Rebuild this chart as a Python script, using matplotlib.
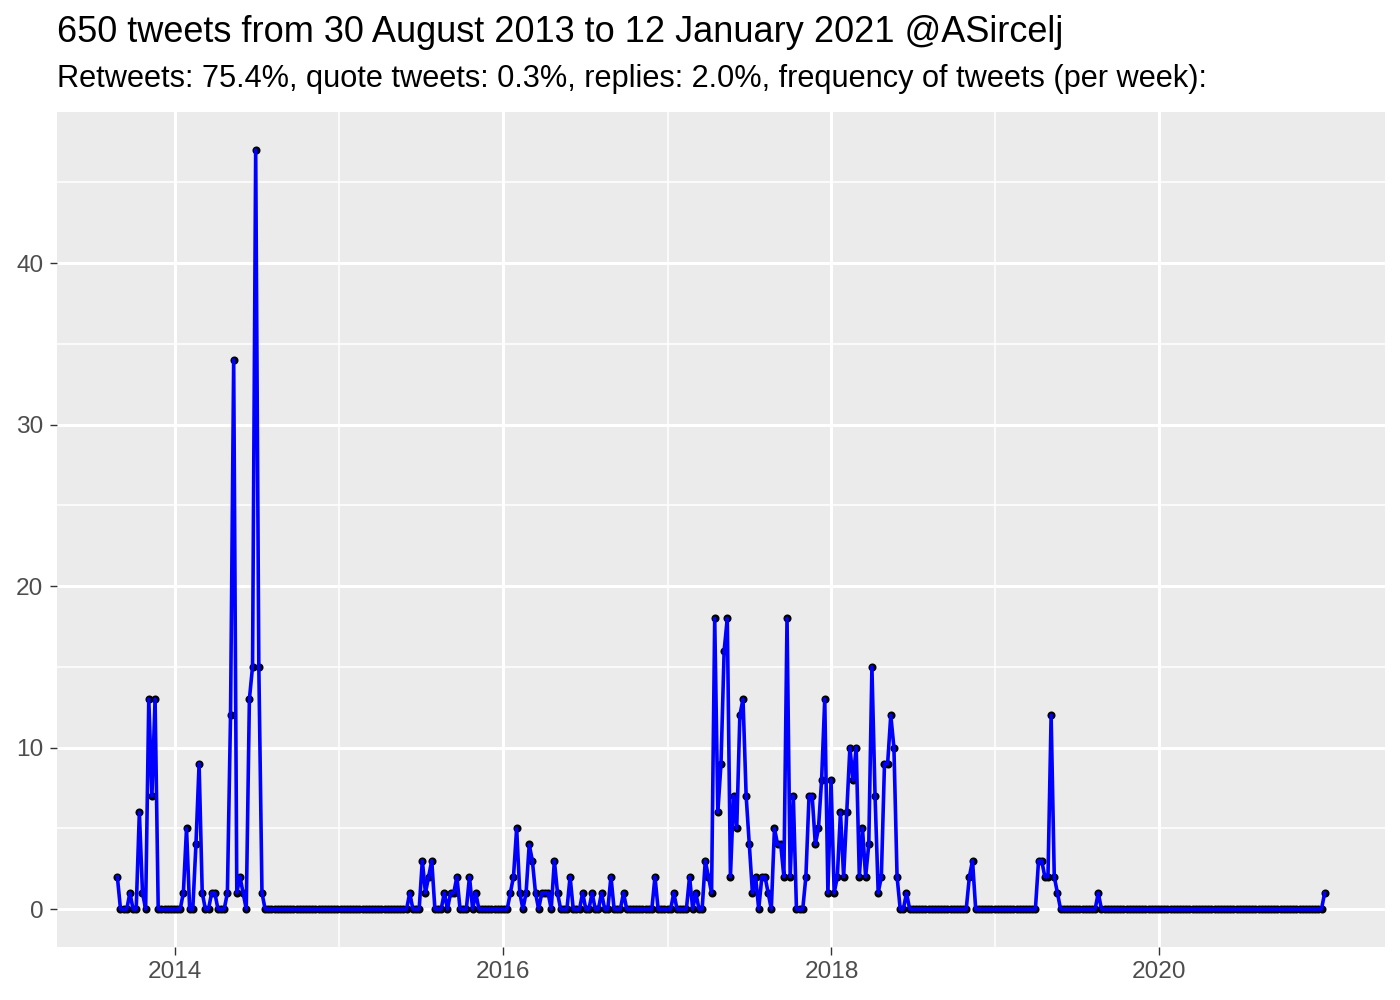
import matplotlib
matplotlib.use('Agg')
import matplotlib.pyplot as plt
import matplotlib.dates as mdates
import pandas as pd

plt.rcParams['font.family'] = ['Liberation Sans', 'DejaVu Sans']

title = '650 tweets from 30 August 2013 to 12 January 2021 @ASircelj'
subtitle = ('Retweets: 75.4%, quote tweets: 0.3%, replies: 2.0%, '
            'frequency of tweets (per week):')

first_week = '2013-08-25'

# tweets per week (one value per week)
counts = [
    2, 0, 0, 0, 1, 0, 0, 6, 1, 0, 13, 7, 13, 0, 0, 0, 0, 0, 0, 0,
    0, 1, 5, 0, 0, 4, 9, 1, 0, 0, 1, 1, 0, 0, 0, 1, 12, 34, 1, 2,
    1, 0, 13, 15, 47, 15, 1, 0, 0, 0, 0, 0, 0, 0, 0, 0, 0, 0, 0, 0,
    0, 0, 0, 0, 0, 0, 0, 0, 0, 0, 0, 0, 0, 0, 0, 0, 0, 0, 0, 0,
    0, 0, 0, 0, 0, 0, 0, 0, 0, 0, 0, 0, 0, 1, 0, 0, 0, 3, 1, 2,
    3, 0, 0, 0, 1, 0, 1, 1, 2, 0, 0, 0, 2, 0, 1, 0, 0, 0, 0, 0,
    0, 0, 0, 0, 0, 1, 2, 5, 1, 0, 1, 4, 3, 1, 0, 1, 1, 1, 0, 3,
    1, 0, 0, 0, 2, 0, 0, 0, 1, 0, 0, 1, 0, 0, 1, 0, 0, 2, 0, 0,
    0, 1, 0, 0, 0, 0, 0, 0, 0, 0, 0, 2, 0, 0, 0, 0, 0, 1, 0, 0,
    0, 0, 2, 0, 1, 0, 0, 3, 2, 1, 18, 6, 9, 16, 18, 2, 7, 5, 12, 13,
    7, 4, 1, 2, 0, 2, 2, 1, 0, 5, 4, 4, 2, 18, 2, 7, 0, 0, 0, 2,
    7, 7, 4, 5, 8, 13, 1, 8, 1, 2, 6, 2, 6, 10, 8, 10, 2, 5, 2, 4,
    15, 7, 1, 2, 9, 9, 12, 10, 2, 0, 0, 1, 0, 0, 0, 0, 0, 0, 0, 0,
    0, 0, 0, 0, 0, 0, 0, 0, 0, 0, 0, 2, 3, 0, 0, 0, 0, 0, 0, 0,
    0, 0, 0, 0, 0, 0, 0, 0, 0, 0, 0, 0, 0, 3, 3, 2, 2, 12, 2, 1,
    0, 0, 0, 0, 0, 0, 0, 0, 0, 0, 0, 0, 1, 0, 0, 0, 0, 0, 0, 0,
    0, 0, 0, 0, 0, 0, 0, 0, 0, 0, 0, 0, 0, 0, 0, 0, 0, 0, 0, 0,
    0, 0, 0, 0, 0, 0, 0, 0, 0, 0, 0, 0, 0, 0, 0, 0, 0, 0, 0, 0,
    0, 0, 0, 0, 0, 0, 0, 0, 0, 0, 0, 0, 0, 0, 0, 0, 0, 0, 0, 0,
    0, 0, 0, 0, 1,
]

weeks = pd.date_range(first_week, periods=len(counts), freq='7D')

fig = plt.figure(figsize=(7, 5))
ax = fig.add_axes([0.0407, 0.053, 0.9486, 0.835])
ax.set_facecolor('#EBEBEB')
for s in ax.spines.values():
    s.set_visible(False)

ax.plot(weeks, counts, linestyle='None', marker='o', markersize=1.9,
        color='black', zorder=2)
ax.plot(weeks, counts, color='blue', linewidth=1.3, zorder=3)

ax.margins(x=0.05, y=0.05)

ax.xaxis.set_major_locator(mdates.YearLocator(2))
ax.xaxis.set_major_formatter(mdates.DateFormatter('%Y'))
x0, x1 = ax.get_xlim()
minor_x = [mdates.date2num(pd.Timestamp(f'{y}-01-01')) for y in (2013, 2015, 2017, 2019)]
ax.set_xticks([m for m in minor_x if x0 <= m <= x1], minor=True)
ax.set_yticks([0, 10, 20, 30, 40])
ax.set_yticks([5, 15, 25, 35, 45], minor=True)

ax.grid(True, which='major', color='white', linewidth=1.1)
ax.grid(True, which='minor', color='white', linewidth=0.55)
ax.set_axisbelow(True)
ax.tick_params(which='major', length=2.7, width=0.5, color='#333333',
               labelsize=8.8, labelcolor='#4D4D4D', pad=2.2)
ax.tick_params(which='minor', length=0)

fig.text(0.0407, 0.968, title, fontsize=13.0, va='center', ha='left')
fig.text(0.0407, 0.921, subtitle, fontsize=11.07, va='center', ha='left')

fig.savefig('out.png', dpi=200)
plt.close()
